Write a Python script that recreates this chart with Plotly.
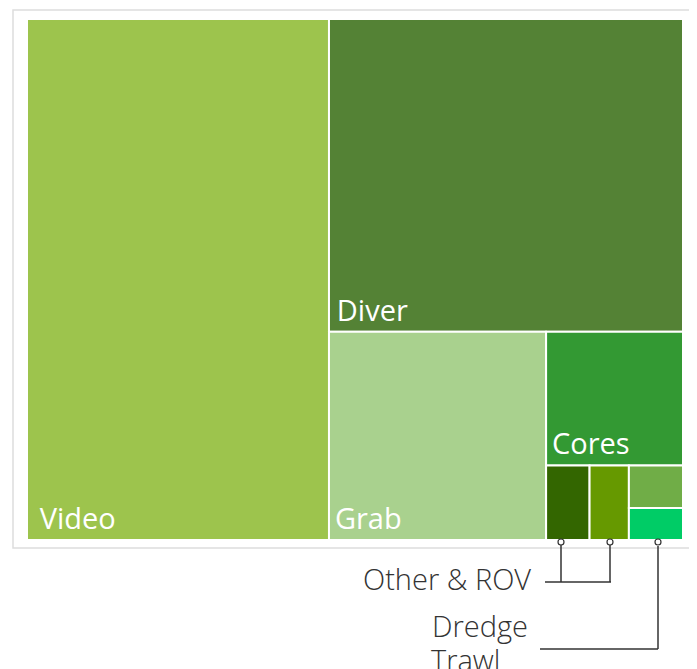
import plotly.graph_objects as go

W, H = 697, 669
OFF = 8  # page body offset of the browser

labels = ["Video", "Diver", "Grab", "Cores", "Other", "ROV", "Dredge", "Trawl"]
values = [45.6, 32.1, 13.1, 5.3, 0.94, 0.85, 0.67, 0.50]
colors = ["#9DC44D", "#548235", "#A9D18E", "#339933", "#336600", "#669900", "#70AD47", "#00CC66"]
shown = ["Video", "Diver", "Grab", "Cores"]

# small left insets of the in-tile labels
inset = {"Video": "\u2009\u2009", "Diver": "\u2009", "Grab": "\u200a", "Cores": "\u200a"}

def px(x):
    return (x - OFF) / W

def py(y):
    return 1 - (y - OFF) / H

texts = [inset[l] + l if l in shown else "" for l in labels]

fig = go.Figure(go.Treemap(
    labels=labels,
    parents=[""] * len(labels),
    values=values,
    text=texts,
    texttemplate="%{text}",
    textposition="bottom left",
    textfont=dict(family="Open Sans", size=29, color="white"),
    marker=dict(colors=colors, line=dict(color="white", width=2),
                pad=dict(t=0, l=0, r=0, b=0)),
    tiling=dict(packing="squarify", squarifyratio=1, pad=0),
    pathbar=dict(visible=False),
    sort=True,
    hoverinfo="label+value",
    domain=dict(x=[px(27), px(683)], y=[py(540), py(19)]),
))

shapes = []
# outer frame
shapes.append(dict(type="rect", xref="paper", yref="paper",
                   x0=px(13), x1=px(712), y0=py(548), y1=py(10),
                   line=dict(color="#dddddd", width=1.5), layer="below"))

lc = "#333333"
def seg(x0, y0, x1, y1):
    shapes.append(dict(type="line", xref="paper", yref="paper",
                       x0=px(x0), y0=py(y0), x1=px(x1), y1=py(y1),
                       line=dict(color=lc, width=1.5)))

def dot(x, y):
    r = 3
    shapes.append(dict(type="circle", xref="paper", yref="paper",
                       x0=px(x - r), x1=px(x + r), y0=py(y + r), y1=py(y - r),
                       line=dict(color=lc, width=1.2), fillcolor="white"))

# Other & ROV leader
seg(561, 545, 561, 582)
seg(610, 545, 610, 582)
seg(545, 582, 611, 582)
# Dredge / Trawl leader
seg(540, 649, 658, 649)
seg(658, 546, 658, 649)
dot(561, 542)
dot(610, 542)
dot(658, 542)

afont = dict(family="Open Sans", size=29, color="#333333", weight=300)
annotations = [
    dict(text="Other & ROV", x=px(533), y=py(578), xref="paper", yref="paper",
         xanchor="right", yanchor="middle", showarrow=False, font=afont),
    dict(text="Dredge", x=px(530), y=py(625), xref="paper", yref="paper",
         xanchor="right", yanchor="middle", showarrow=False, font=afont),
    dict(text="Trawl", x=px(502), y=py(659), xref="paper", yref="paper",
         xanchor="right", yanchor="middle", showarrow=False, font=afont),
    dict(text="<b>Type</b>", x=px(10), y=py(-14), xref="paper", yref="paper",
         xanchor="left", yanchor="middle", showarrow=False,
         font=dict(family="Open Sans", size=24, color="#222222")),
]

fig.update_layout(
    width=W, height=H,
    margin=dict(l=0, r=0, t=0, b=0),
    paper_bgcolor="white",
    shapes=shapes,
    annotations=annotations,
    showlegend=False,
)

fig.write_html("out.html")
